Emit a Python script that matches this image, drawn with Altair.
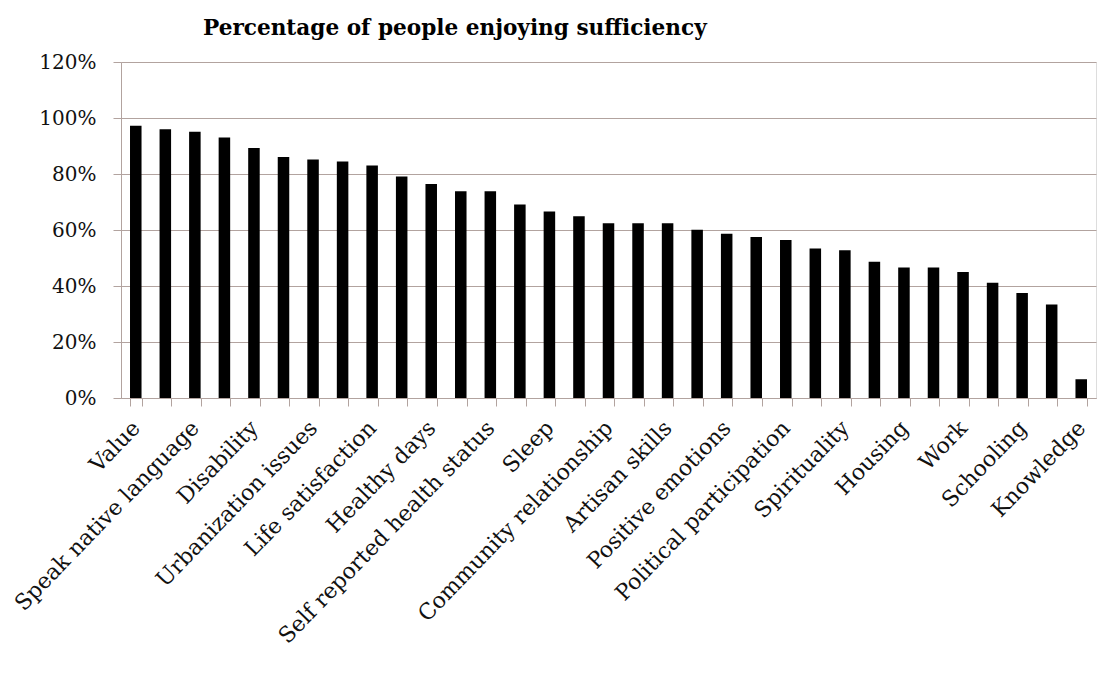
import json
import altair as alt
import pandas as pd

# Labels shown on the axis (every other bar carries a label)
shown_labels = [
    "Value", "Speak native language", "Disability", "Urbanization issues",
    "Life satisfaction", "Healthy days", "Self reported health status", "Sleep",
    "Community relationship", "Artisan skills", "Positive emotions",
    "Political participation", "Spirituality", "Housing", "Work", "Schooling",
    "Knowledge",
]

# Percentage of people enjoying sufficiency, one value per bar (33 bars)
values = [
    97.2, 96.0, 95.1, 93.0, 89.3, 86.1, 85.2, 84.5, 83.0, 79.1, 76.4,
    73.8, 73.8, 69.1, 66.6, 64.9, 62.4, 62.4, 62.4, 60.1, 58.7, 57.5,
    56.4, 53.4, 52.8, 48.7, 46.6, 46.6, 45.0, 41.2, 37.5, 33.4, 6.7,
]

y_ticks = [0, 0.2, 0.4, 0.6, 0.8, 1.0, 1.2]

df = pd.DataFrame({
    "idx": list(range(len(values))),
    "share": [v / 100 for v in values],
})

label_expr = "datum.value % 2 == 0 ? {}[datum.value / 2] : ''".format(
    json.dumps(shown_labels)
)

GRID = "#b2a39f"
FONT = "DejaVu Serif"

chart = (
    alt.Chart(df, title=alt.Title(
        "Percentage of people  enjoying sufficiency",
        font=FONT, fontSize=21.6, fontWeight="bold", color="#000",
        anchor="start", frame="group", dx=82, offset=12,
    ))
    .mark_bar(color="#000")
    .encode(
        x=alt.X(
            "idx:O",
            title=None,
            scale=alt.Scale(paddingInner=0.61, paddingOuter=0.305),
            axis=alt.Axis(
                labelExpr=label_expr,
                labelAngle=-46,
                labelAlign="right",
                labelBaseline="middle",
                labelPadding=18,
                labelOverlap=False,
                labelLimit=0,
                labelFont=FONT,
                labelFontSize=22,
                labelColor="#111",
                tickBand="extent",
                tickSize=8,
                tickColor=GRID,
                domainColor=GRID,
                grid=False,
            ),
        ),
        y=alt.Y(
            "share:Q",
            title=None,
            scale=alt.Scale(domain=[0, 1.2], nice=False),
            axis=alt.Axis(
                values=y_ticks,
                format=".0%",
                labelFont=FONT,
                labelFontSize=20,
                labelColor="#111",
                labelPadding=17,
                tickSize=8,
                tickColor=GRID,
                domainColor=GRID,
                gridColor=GRID,
                gridOpacity=1,
            ),
        ),
    )
    .properties(
        width=975,
        height=336,
        autosize=alt.AutoSizeParams(type="none"),
        padding={"left": 113, "top": 54, "right": 4, "bottom": 260},
    )
    .configure_view(stroke=None)
    .configure(background="white")
)

chart.save("out.html", embed_options={"renderer": "svg", "actions": False})
